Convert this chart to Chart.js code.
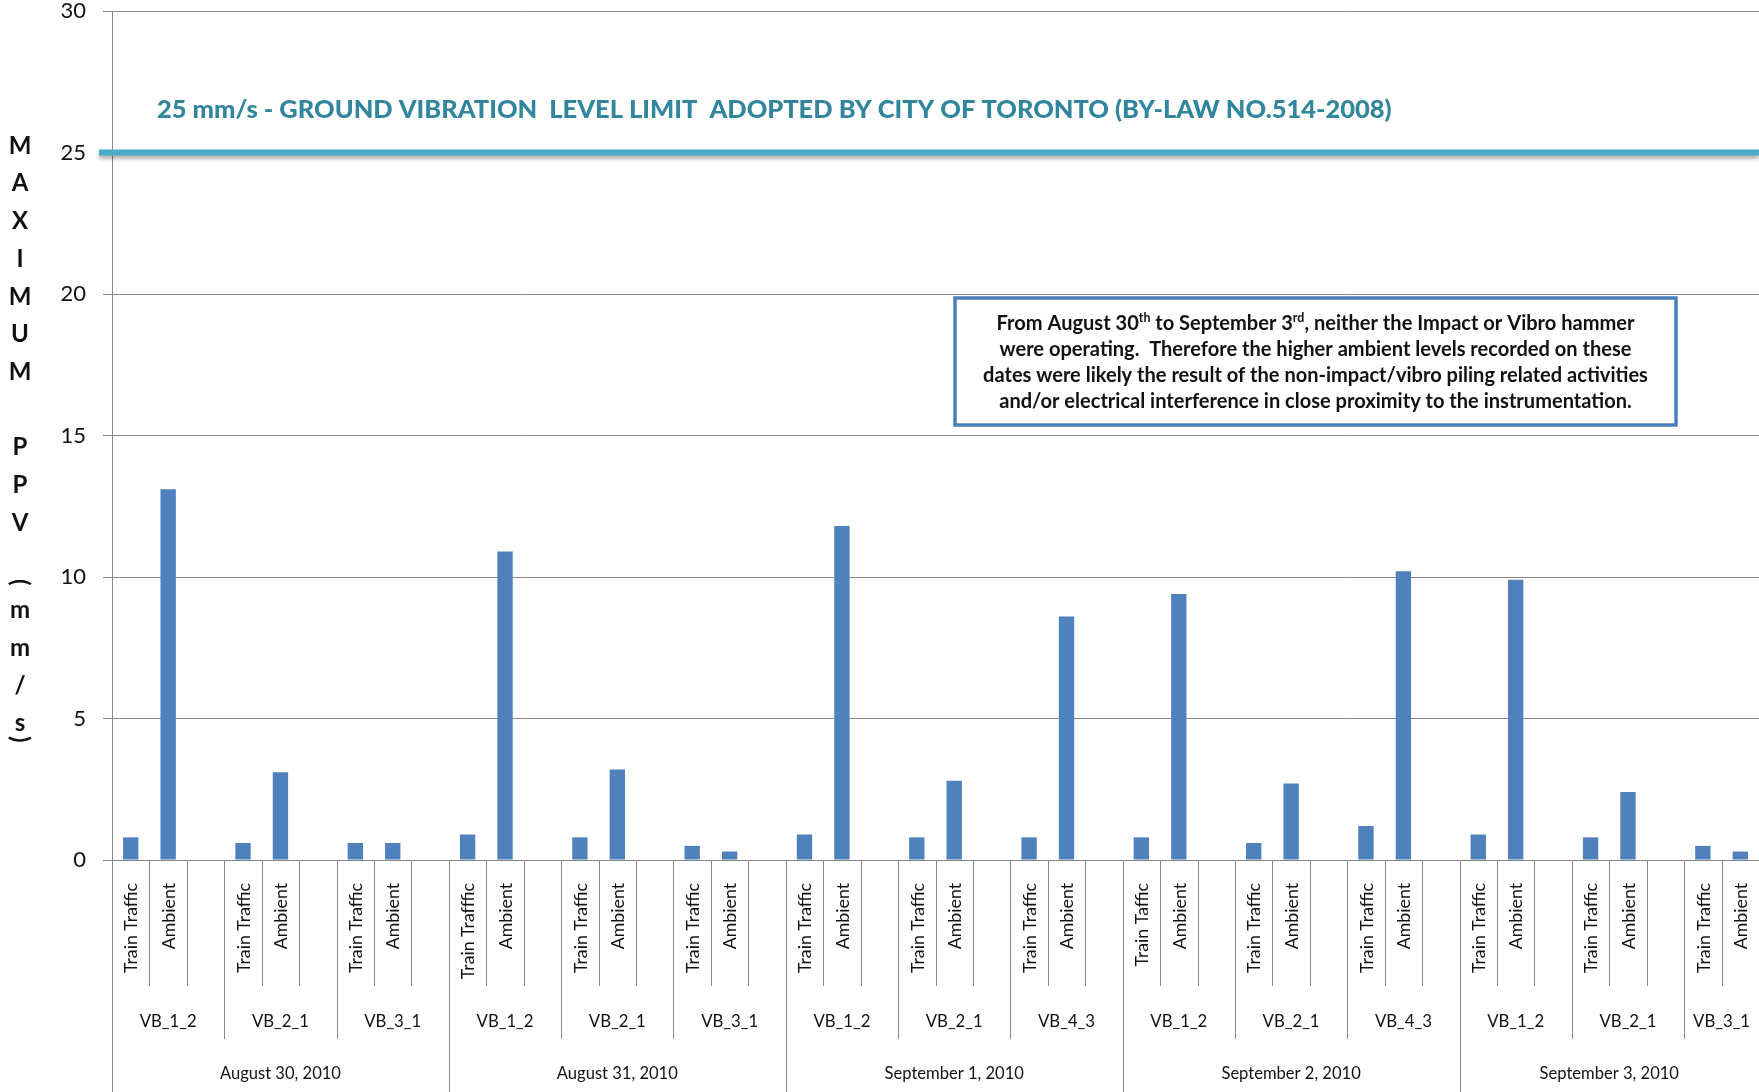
<!DOCTYPE html>
<html>
<head>
<meta charset="utf-8">
<title>Maximum PPV</title>
<script src="https://cdn.jsdelivr.net/npm/chart.js@4.4.1/dist/chart.umd.min.js"></script>
<style>
    html, body { margin: 0; padding: 0; background: #fff; }
    canvas { display: block; }
</style>
</head>
<body>
<canvas id="ppvChart" width="1759" height="1092"></canvas>
<script>
const dates = ["August 30, 2010", "August 31, 2010", "September 1, 2010", "September 2, 2010", "September 3, 2010"];
const locations = [
    ["VB_1_2", "VB_2_1", "VB_3_1"],
    ["VB_1_2", "VB_2_1", "VB_3_1"],
    ["VB_1_2", "VB_2_1", "VB_4_3"],
    ["VB_1_2", "VB_2_1", "VB_4_3"],
    ["VB_1_2", "VB_2_1", "VB_3_1"]
];
// one entry per location, in order (typos kept as in the original)
const trainLabels = [
    "Train Traffic", "Train Traffic", "Train Traffic",
    "Train Trafffic", "Train Traffic", "Train Traffic",
    "Train Traffic", "Train Traffic", "Train Traffic",
    "Train Taffic", "Train Traffic", "Train Traffic",
    "Train Traffic", "Train Traffic", "Train Traffic"
];
const ambientLabel = "Ambient";
const trainTraffic = [0.8, 0.6, 0.6, 0.9, 0.8, 0.5, 0.9, 0.8, 0.8, 0.8, 0.6, 1.2, 0.9, 0.8, 0.5];
const ambient = [13.1, 3.1, 0.6, 10.9, 3.2, 0.3, 11.8, 2.8, 8.6, 9.4, 2.7, 10.2, 9.9, 2.4, 0.3];
const yMin = 0, yMax = 30, yStep = 5;
const limitValue = 25;
const limitText = "25 mm/s - GROUND VIBRATION  LEVEL LIMIT  ADOPTED BY CITY OF TORONTO (BY-LAW NO.514-2008)";
const yTitle = "MAXIMUM PPV (mm/s)";
const noteLines = [
    [["From August 30"], ["th", 1], [" to September 3"], ["rd", 1], [", neither the Impact or Vibro hammer"]],
    [["were operating.  Therefore the higher ambient levels recorded on these"]],
    [["dates were likely the result of the non-impact/vibro piling related activities"]],
    [["and/or electrical interference in close proximity to the instrumentation."]]
];

// build the flat category list: Train Traffic, Ambient, blank for each location
const labels = [];
const values = [];
const slotText = [];
let k = 0;
dates.forEach((d, di) => {
    locations[di].forEach((loc, li) => {
        labels.push(d + " " + loc + " train");
        values.push(trainTraffic[k]);
        slotText.push(trainLabels[k]);
        labels.push(d + " " + loc + " ambient");
        values.push(ambient[k]);
        slotText.push(ambientLabel);
        const last = di === dates.length - 1 && li === locations[di].length - 1;
        if (!last) {
            labels.push(d + " " + loc + " gap");
            values.push(null);
            slotText.push("");
        }
        k++;
    });
});

const FONT = "Lato, 'Open Sans', sans-serif";
const GRID = "#868686";
const TEXT = "#111";

function fitSize(ctx, text, weight, target) {
    ctx.font = weight + " 100px " + FONT;
    return 100 * target / ctx.measureText(text).width;
}

const overlay = {
    id: "overlay",
    afterDatasetsDraw(chart) {
        const { ctx, chartArea, scales: { y } } = chart;
        const ly = y.getPixelForValue(limitValue);

        // limit line with shadow
        ctx.save();
        ctx.shadowColor = "rgba(0,0,0,0.35)";
        ctx.shadowBlur = 4;
        ctx.shadowOffsetY = 3;
        ctx.strokeStyle = "#4bacc6";
        ctx.lineWidth = 6;
        ctx.beginPath();
        ctx.moveTo(chartArea.left - 13, ly);
        ctx.lineTo(chartArea.right, ly);
        ctx.stroke();
        ctx.restore();

        // limit text
        ctx.save();
        const ts = fitSize(ctx, limitText, "900", 1235);
        ctx.font = "900 " + ts + "px " + FONT;
        ctx.fillStyle = "#31859c";
        ctx.textBaseline = "middle";
        ctx.textAlign = "left";
        ctx.fillText(limitText, chartArea.left + 45, ly - 43);
        ctx.restore();

        // note box
        const bx = 955, by = 298, bw = 721, bh = 127;
        ctx.save();
        ctx.fillStyle = "#fff";
        ctx.fillRect(bx, by, bw, bh);
        ctx.strokeStyle = "#4a7ebb";
        ctx.lineWidth = 3.5;
        ctx.strokeRect(bx, by, bw, bh);
        const ns = fitSize(ctx, noteLines[2][0][0], "bold", 665);
        ctx.fillStyle = TEXT;
        ctx.textBaseline = "alphabetic";
        ctx.textAlign = "left";
        noteLines.forEach((line, i) => {
            let w = 0;
            line.forEach(([t, sup]) => {
                ctx.font = "bold " + (sup ? ns * 0.62 : ns) + "px " + FONT;
                w += ctx.measureText(t).width;
            });
            let x = bx + bw / 2 - w / 2;
            const base = by + 32 + i * 26;
            line.forEach(([t, sup]) => {
                ctx.font = "bold " + (sup ? ns * 0.62 : ns) + "px " + FONT;
                ctx.fillText(t, x, sup ? base - ns * 0.38 : base);
                x += ctx.measureText(t).width;
            });
        });
        ctx.restore();
    },
    afterDraw(chart) {
        const { ctx, chartArea, scales: { x } } = chart;
        const n = labels.length;
        const slot = (x.right - x.left) / n;
        const top = chartArea.bottom;
        const H = chart.height;

        ctx.save();
        // separators
        ctx.strokeStyle = GRID;
        ctx.lineWidth = 1;
        for (let i = 0; i < n; i++) {
            const px = Math.round(x.getPixelForValue(i) - slot / 2) + 0.5;
            let end = top + 126;
            if (i % 9 === 0) end = H;
            else if (i % 3 === 0) end = top + 179;
            ctx.beginPath();
            ctx.moveTo(px, top);
            ctx.lineTo(px, end);
            ctx.stroke();
        }

        // rotated labels
        ctx.fillStyle = TEXT;
        const rs = fitSize(ctx, "Train Traffic", "normal", 90);
        ctx.font = rs + "px " + FONT;
        ctx.textAlign = "right";
        ctx.textBaseline = "middle";
        slotText.forEach((t, i) => {
            if (!t) return;
            ctx.save();
            ctx.translate(x.getPixelForValue(i) + 1, top + 23);
            ctx.rotate(-Math.PI / 2);
            ctx.fillText(t, 0, 0);
            ctx.restore();
        });

        // location and date labels
        const vs = fitSize(ctx, "VB_1_2", "normal", 57);
        const ds = fitSize(ctx, "August 30, 2010", "normal", 121);
        ctx.textAlign = "center";
        let s = 0;
        dates.forEach((d, di) => {
            const start = s;
            ctx.font = vs + "px " + FONT;
            locations[di].forEach(loc => {
                const a = x.getPixelForValue(s) - slot / 2;
                const b = Math.min(a + slot * 3, x.right);
                ctx.fillText(loc, (a + b) / 2, top + 162);
                s += 3;
            });
            const a = x.getPixelForValue(start) - slot / 2;
            const b = Math.min(a + slot * 9, x.right);
            ctx.font = ds + "px " + FONT;
            ctx.fillText(d, (a + b) / 2, top + 214);
        });

        // stacked y title
        ctx.font = "bold 24px " + FONT;
        ctx.textAlign = "center";
        ctx.textBaseline = "middle";
        const step = 37.7;
        let yy = 146;
        for (const ch of yTitle) {
            if (ch === " ") { yy += step; continue; }
            if (ch === "(" || ch === ")") {
                const py = ch === "(" ? yy - 16 : yy - 22;
                ctx.save();
                ctx.translate(20, py);
                ctx.rotate(Math.PI / 2);
                ctx.fillText(ch, 0, 0);
                ctx.restore();
                if (ch === "(") yy += 12;
                continue;
            }
            ctx.fillText(ch, 20, yy);
            yy += step;
        }
        ctx.restore();
    }
};

new Chart(document.getElementById("ppvChart"), {
    type: "bar",
    data: {
        labels: labels,
        datasets: [{
            label: "Maximum PPV",
            data: values,
            backgroundColor: "#4f81bd",
            barPercentage: 0.41,
            categoryPercentage: 1
        }]
    },
    options: {
        responsive: false,
        animation: false,
        layout: { padding: { top: 11, right: 0, left: 0, bottom: 0 } },
        plugins: { legend: { display: false }, tooltip: { enabled: false } },
        scales: {
            x: {
                ticks: { display: false },
                grid: { display: false },
                border: { display: false },
                afterFit(scale) { scale.height = 232; }
            },
            y: {
                min: yMin,
                max: yMax,
                ticks: {
                    stepSize: yStep,
                    padding: 17,
                    color: TEXT,
                    font: { family: FONT, size: 22, lineHeight: 1 }
                },
                grid: { color: GRID, tickLength: 9, tickColor: GRID },
                border: { display: true, color: GRID },
                afterFit(scale) {
                    scale.width = 112;
                    scale.paddingTop = 0;
                    scale.paddingBottom = 0;
                }
            }
        }
    },
    plugins: [overlay]
});
</script>
</body>
</html>
